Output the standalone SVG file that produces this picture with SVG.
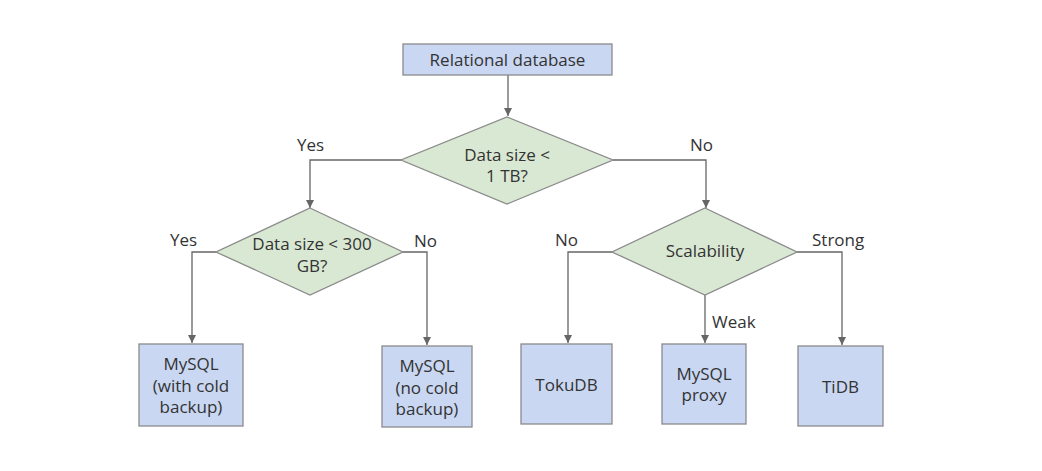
<svg xmlns="http://www.w3.org/2000/svg" width="1042" height="471" viewBox="0 0 1042 471">
<defs>
<marker id="arr" viewBox="0 0 10 10" refX="10" refY="5" markerWidth="8" markerHeight="8" markerUnits="userSpaceOnUse" orient="auto">
<path d="M0,0 L10,5 L0,10 z" fill="#666"/>
</marker>
<style>
.box{fill:#c9d7f2;stroke:#8a8a8a;stroke-width:1.3}
.dia{fill:#d9e8d3;stroke:#8a8a8a;stroke-width:1.3}
.t{font-family:"Open Sans","Noto Sans",sans-serif;font-size:17px;fill:#333;text-anchor:middle}
.lbl{font-family:"Open Sans","Noto Sans",sans-serif;font-size:17px;fill:#333}
.c{fill:none;stroke:#666;stroke-width:1.3}
</style>
</defs>
<rect width="1042" height="471" fill="#fff"/>
<g id="connectors">
<path class="c" d="M508,75 V116" marker-end="url(#arr)"/>
<path class="c" d="M401,160 H310 V208" marker-end="url(#arr)"/>
<path class="c" d="M613,160 H706 V208" marker-end="url(#arr)"/>
<path class="c" d="M216,252 H192 V343" marker-end="url(#arr)"/>
<path class="c" d="M403,252 H427 V345" marker-end="url(#arr)"/>
<path class="c" d="M612,252 H568 V343" marker-end="url(#arr)"/>
<path class="c" d="M705,295 V343" marker-end="url(#arr)"/>
<path class="c" d="M797,252 H842 V345" marker-end="url(#arr)"/>
<text class="lbl" x="297" y="151">Yes</text>
<text class="lbl" x="690" y="151">No</text>
<text class="lbl" x="170" y="246">Yes</text>
<text class="lbl" x="414" y="247">No</text>
<text class="lbl" x="555" y="246">No</text>
<text class="lbl" x="812" y="246">Strong</text>
<text class="lbl" x="712" y="328">Weak</text>
</g>
<g id="n-relational">
<rect class="box" x="403" y="44" width="209" height="31"/>
<text class="t" x="507.5" y="66">Relational database</text>
</g>
<g id="n-size1tb">
<polygon class="dia" points="507,117 613,160 507,204 401,160"/>
<text class="t" x="507" y="161">Data size &lt;</text>
<text class="t" x="507" y="182">1 TB?</text>
</g>
<g id="n-size300">
<polygon class="dia" points="310,208 403,252 310,295 216,252"/>
<text class="t" x="312" y="250">Data size &lt; 300</text>
<text class="t" x="312" y="272">GB?</text>
</g>
<g id="n-scalability">
<polygon class="dia" points="705,208 797,252 705,295 612,252"/>
<text class="t" x="705" y="257">Scalability</text>
</g>
<g id="n-mysql-cold">
<rect class="box" x="139" y="344" width="104" height="82"/>
<text class="t" x="191" y="370">MySQL</text>
<text class="t" x="191" y="392">(with cold</text>
<text class="t" x="191" y="413">backup)</text>
</g>
<g id="n-mysql-nocold">
<rect class="box" x="382" y="346" width="90" height="81"/>
<text class="t" x="427" y="372">MySQL</text>
<text class="t" x="427" y="394">(no cold</text>
<text class="t" x="427" y="415">backup)</text>
</g>
<g id="n-tokudb">
<rect class="box" x="521" y="344" width="91" height="80"/>
<text class="t" x="566.5" y="391">TokuDB</text>
</g>
<g id="n-mysqlproxy">
<rect class="box" x="662" y="344" width="84" height="80"/>
<text class="t" x="704" y="380">MySQL</text>
<text class="t" x="704" y="401">proxy</text>
</g>
<g id="n-tidb">
<rect class="box" x="798" y="346" width="85" height="80"/>
<text class="t" x="840.5" y="393">TiDB</text>
</g>
</svg>
